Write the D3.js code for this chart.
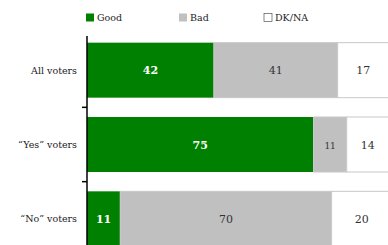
<!DOCTYPE html>
<html><head><meta charset="utf-8">
<script src="https://cdn.jsdelivr.net/npm/d3@7"></script>
<style>body{margin:0;background:#fff}svg{display:block}text{font-family:"DejaVu Serif","Liberation Serif",serif}</style>
</head><body>
<script>
const categories = ["All voters", "\u201CYes\u201D voters", "\u201CNo\u201D voters"];
const seriesNames = ["Good", "Bad", "DK/NA"];
const good = [42, 75, 11];
const bad = [41, 11, 70];
const dkna = [17, 14, 20];
const colors = ["#008000", "#c0c0c0", "#ffffff"];
const textColors = ["#ffffff", "#333333", "#333333"];

const W = 388, H = 245;
const svg = d3.select("body").append("svg").attr("width", W).attr("height", H);

const x = d3.scaleLinear().domain([0, 100]).range([87, 389]);
const y = d3.scaleBand().domain(categories).range([33, 256]).paddingInner(0.26).paddingOuter(0.13);

const rows = categories.map((c, i) => ({cat: c, vals: [good[i], bad[i], dkna[i]]}));
const stackData = rows.map(r => {
  let acc = 0;
  return r.vals.map((v, k) => { const s = acc; acc += v; return {cat: r.cat, k, v, x0: s, x1: acc}; });
}).flat();

svg.selectAll("rect.bar").data(stackData).enter().append("rect")
  .attr("class", "bar")
  .attr("x", d => x(d.x0)).attr("width", d => x(d.x1) - x(d.x0))
  .attr("y", d => y(d.cat)).attr("height", y.bandwidth())
  .attr("fill", d => colors[d.k])
  .attr("stroke", d => d.k === 0 ? "none" : "#c8c8c8").attr("stroke-width", 1);

svg.selectAll("text.val").data(stackData).enter().append("text")
  .attr("x", d => (x(d.x0) + x(d.x1)) / 2)
  .attr("y", d => y(d.cat) + y.bandwidth() / 2 + 4)
  .attr("text-anchor", "middle")
  .attr("font-size", d => (d.k === 1 && d.v < 15) ? 9 : 11)
  .attr("font-weight", d => d.k === 0 ? "bold" : "normal")
  .attr("fill", d => textColors[d.k])
  .text(d => d.v);

// axis
const ax = svg.append("g").attr("transform", "translate(87,0)");
ax.append("line").attr("x1", 0).attr("x2", 0).attr("y1", 36).attr("y2", H).attr("stroke", "#000").attr("stroke-width", 1.5);
const step = y.step();
ax.selectAll("line.tick").data(categories.slice(1)).enter().append("line")
  .attr("x1", -5).attr("x2", 0)
  .attr("y1", d => y(d) - (step - y.bandwidth()) / 2)
  .attr("y2", d => y(d) - (step - y.bandwidth()) / 2)
  .attr("stroke", "#000").attr("stroke-width", 1.5);
svg.selectAll("text.cat").data(categories).enter().append("text")
  .attr("x", 77).attr("y", d => y(d) + y.bandwidth() / 2 + 3.5)
  .attr("text-anchor", "end").attr("font-size", 9.5)
  .attr("fill", "#222").text(d => d);

// legend
const legX = [86, 179, 264];
const lg = svg.selectAll("g.leg").data(seriesNames).enter().append("g")
  .attr("transform", (d, i) => `translate(${legX[i]},13)`);
lg.append("rect").attr("width", 8).attr("height", 8).attr("y", 0.5)
  .attr("fill", (d, i) => colors[i]).attr("stroke", (d, i) => i === 2 ? "#555" : "none").attr("stroke-width", 0.7);
lg.append("text").attr("x", 11).attr("y", 8).attr("font-size", 9.5)
  .attr("fill", "#222").text(d => d);
</script>
</body></html>
